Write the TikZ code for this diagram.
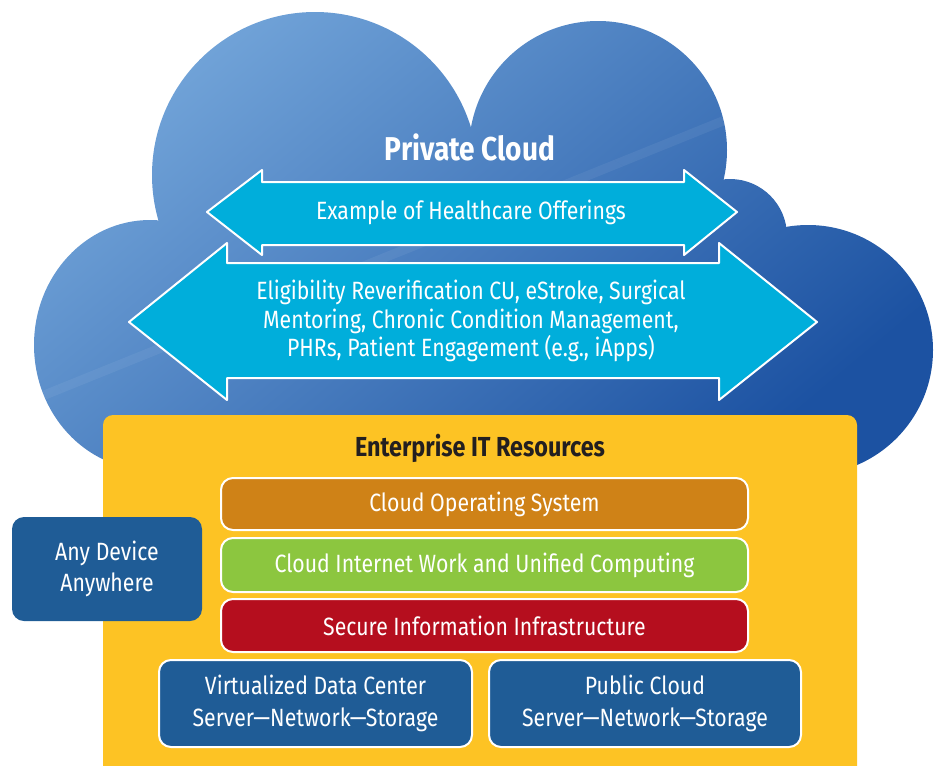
\documentclass[tikz,border=0pt]{standalone}
\usepackage{fontspec}
\setmainfont{Fira Sans}[FakeStretch=0.85]
\definecolor{cloudtop}{HTML}{74A6DA}
\definecolor{cloudbot}{HTML}{1C52A2}
\definecolor{arrowc}{HTML}{00AEDB}
\definecolor{yellowc}{HTML}{FDC324}
\definecolor{orangec}{HTML}{CF8217}
\definecolor{greenc}{HTML}{8CC63F}
\definecolor{redc}{HTML}{B50E1E}
\definecolor{bluebox}{HTML}{1F5C96}
\definecolor{darktext}{HTML}{231F20}
\newcommand{\cloudfill}{%
  \shade[top color=cloudtop,bottom color=cloudbot,shading angle=40] (0,0) rectangle (938,480);
  \fill[white,opacity=0.06] (0,408) -- (760,101) -- (760,111) -- (0,418) -- cycle;}
\begin{document}
\begin{tikzpicture}[x=1pt,y=-1pt,line join=round,
  bigarrow/.style={fill=arrowc,draw=white,line width=2pt},
  layer/.style={draw=white,line width=2pt,rounded corners=12pt,text=white,
    font=\fontsize{25}{30}\selectfont,align=center,inner sep=0pt},
  whitetext/.style={text=white,align=center,inner sep=0pt}]
\useasboundingbox (0,0) rectangle (938,766);
% cloud: union of bumps, each clipped and shaded with the same shading
\begin{scope}\clip (315,175) circle[radius=163];\cloudfill\end{scope}
\begin{scope}\clip (598,150) circle[radius=129];\cloudfill\end{scope}
\begin{scope}\clip (730,236) circle[radius=57];\cloudfill\end{scope}
\begin{scope}\clip (808,350) circle[radius=125];\cloudfill\end{scope}
\begin{scope}\clip (150,345) ellipse[x radius=116,y radius=125];\cloudfill\end{scope}
\begin{scope}\clip (150,240) -- (314,172) -- (598,150) -- (730,235) -- (808,350)
  -- (850,465) -- (110,460) -- (40,360) -- cycle;\cloudfill\end{scope}
% title
\node[whitetext,font=\bfseries\fontsize{33}{38}\selectfont] (title) at (470,147) {Private Cloud};
% arrows
\draw[bigarrow] (207,212) -- (262,170) -- (262,182) -- (684,182) -- (684,170) -- (737,212)
  -- (684,255) -- (684,245) -- (262,245) -- (262,255) -- cycle;
\node[whitetext,font=\fontsize{25}{30}\selectfont] (ex) at (471,212) {Example of Healthcare Offerings};
\draw[bigarrow] (129,322) -- (227,243) -- (227,263) -- (719,263) -- (719,243) -- (817,322)
  -- (719,400) -- (719,378) -- (227,378) -- (227,400) -- cycle;
\node[whitetext,font=\fontsize{25}{28.5}\selectfont] (elig) at (471,321)
  {Eligibility Reverification CU, eStroke, Surgical\\Mentoring, Chronic Condition Management,\\PHRs, Patient Engagement (e.g., iApps)};
% enterprise box
\fill[yellowc,rounded corners=10pt] (103,415) rectangle (857,776);
\node[inner sep=0pt,text=darktext,font=\bfseries\fontsize{27.5}{32}\selectfont] (ent) at (480,448) {Enterprise IT Resources};
\node[layer,fill=orangec,minimum width=527pt,minimum height=52pt] (cos) at (484.5,504) {Cloud Operating System};
\node[layer,fill=greenc,minimum width=527pt,minimum height=54pt] (ciw) at (484.5,565) {Cloud Internet Work and Unified Computing};
\node[layer,fill=redc,minimum width=527pt,minimum height=53pt] (sii) at (484.5,625.5) {Secure Information Infrastructure};
\node[layer,fill=bluebox,minimum width=313pt,minimum height=87pt,font=\fontsize{25}{32}\selectfont] (vdc) at (315.5,703.5) {Virtualized Data Center\\Server---Network---Storage};
\node[layer,fill=bluebox,minimum width=312pt,minimum height=87pt,font=\fontsize{25}{32}\selectfont] (pub) at (645,703.5) {Public Cloud\\Server---Network---Storage};
\node[layer,draw=none,fill=bluebox,minimum width=190pt,minimum height=104pt,font=\fontsize{25}{31}\selectfont] (any) at (107,569) {Any Device\\Anywhere};
\end{tikzpicture}
\end{document}
